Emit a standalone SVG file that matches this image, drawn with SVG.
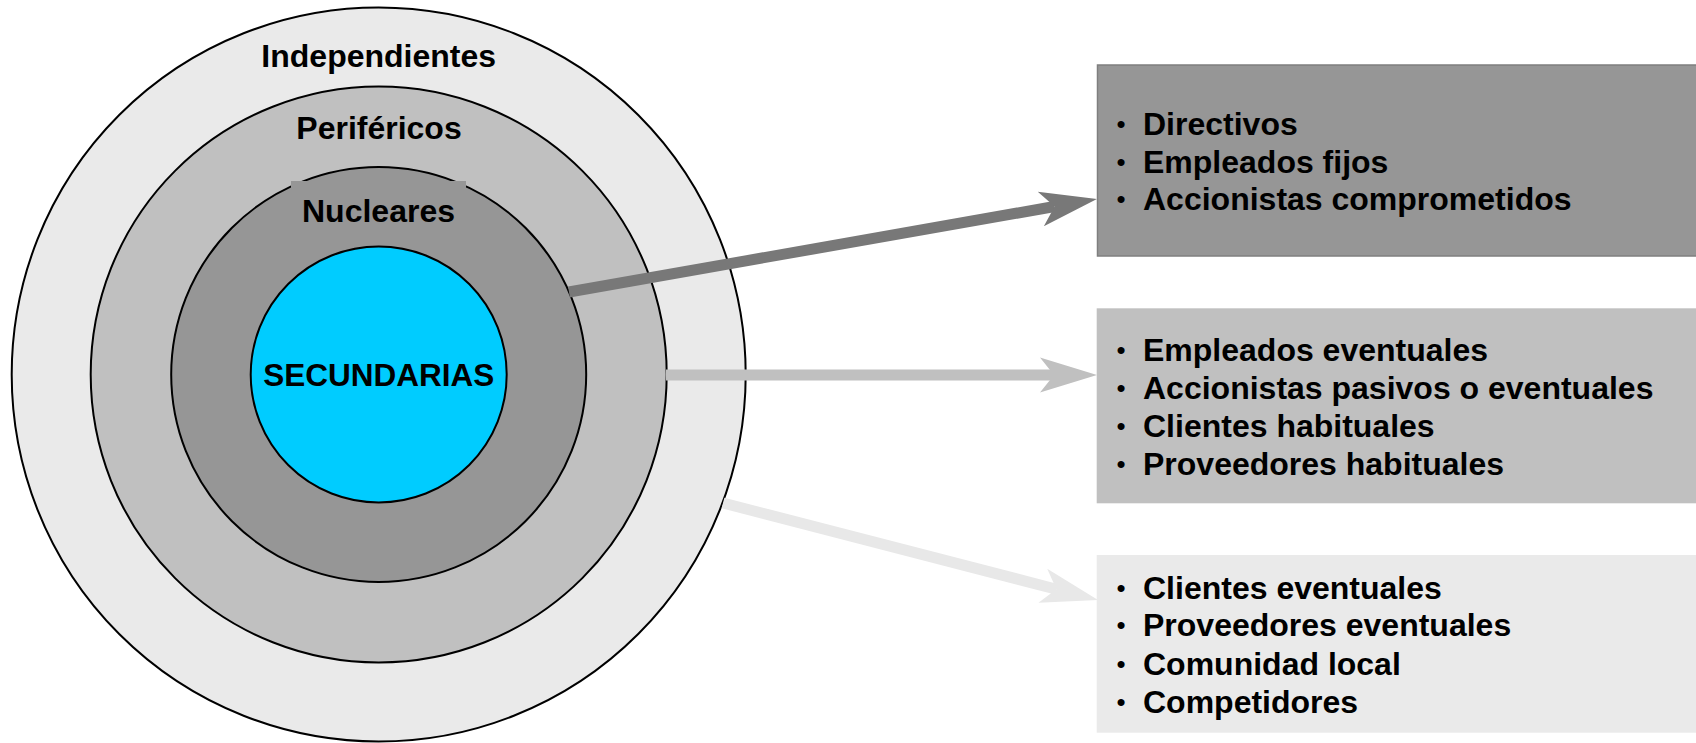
<svg xmlns="http://www.w3.org/2000/svg" width="1696" height="743" viewBox="0 0 1696 743">
<style>
.ring{stroke:#000;stroke-width:2}
.lbl{font-family:"Liberation Sans",Arial,sans-serif;font-weight:bold;font-size:32px;fill:#000;text-anchor:middle}
.item{font-family:"Liberation Sans",Arial,sans-serif;font-weight:bold;font-size:32px;fill:#000}
.bul{font-family:"Liberation Sans",Arial,sans-serif;font-size:26px;fill:#000;text-anchor:middle}
.shaft{fill:none;stroke-width:11;stroke-linecap:butt}
</style>
<defs>
<marker id="h1" markerUnits="userSpaceOnUse" orient="auto" refX="0" refY="0" markerWidth="120" markerHeight="60" viewBox="-20 -30 120 60" overflow="visible"><path d="M43,0 L-14,-17.5 L0,0 L-14,17.5 Z" fill="#787878"/></marker>
<marker id="h2" markerUnits="userSpaceOnUse" orient="auto" refX="0" refY="0" markerWidth="120" markerHeight="60" viewBox="-20 -30 120 60" overflow="visible"><path d="M43,0 L-14,-17.5 L0,0 L-14,17.5 Z" fill="#c0c0c0"/></marker>
<marker id="h3" markerUnits="userSpaceOnUse" orient="auto" refX="0" refY="0" markerWidth="120" markerHeight="60" viewBox="-20 -30 120 60" overflow="visible"><path d="M43,0 L-14,-17.5 L0,0 L-14,17.5 Z" fill="#e8e8e8"/></marker>
</defs>
<rect width="1696" height="743" fill="#fff"/>
<g id="independientes">
<circle class="ring" cx="378.7" cy="374.5" r="367" fill="#eaeaea"/>
<text class="lbl" x="378.7" y="66.5">Independientes</text>
</g>
<g id="perifericos">
<circle class="ring" cx="378.7" cy="374.5" r="288" fill="#c0c0c0"/>
<text class="lbl" x="379" y="138.5">Periféricos</text>
</g>
<g id="nucleares">
<circle class="ring" cx="378.7" cy="374.5" r="207.5" fill="#969696"/>
<rect x="291" y="181" width="175" height="52" fill="#969696"/>
<text class="lbl" x="378.5" y="222">Nucleares</text>
</g>
<g id="secundarias">
<circle class="ring" cx="378.7" cy="374.5" r="128" fill="#00ccff"/>
<text class="lbl" x="378.8" y="385.5" style="font-size:31.5px">SECUNDARIAS</text>
</g>
<g id="connectors">
<line class="shaft" x1="569" y1="292" x2="1054.6" y2="206.5" stroke="#787878" marker-end="url(#h1)"/>
<line class="shaft" x1="666" y1="375" x2="1054" y2="375" stroke="#c0c0c0" marker-end="url(#h2)"/>
<line class="shaft" x1="723" y1="503" x2="1056.4" y2="589.2" stroke="#e8e8e8" marker-end="url(#h3)"/>
</g>
<g id="box-nucleares">
<rect x="1097.5" y="65" width="600" height="191" fill="#969696" stroke="#7f7f7f" stroke-width="1.5"/>
<text class="bul" x="1121" y="133">•</text><text class="item" x="1143" y="135">Directivos</text>
<text class="bul" x="1121" y="170.5">•</text><text class="item" x="1143" y="172.5">Empleados fijos</text>
<text class="bul" x="1121" y="208">•</text><text class="item" x="1143" y="210">Accionistas comprometidos</text>
</g>
<g id="box-perifericos">
<rect x="1096.7" y="308.3" width="600" height="195" fill="#c0c0c0"/>
<text class="bul" x="1121" y="359">•</text><text class="item" x="1143" y="361">Empleados eventuales</text>
<text class="bul" x="1121" y="397">•</text><text class="item" x="1143" y="399">Accionistas pasivos o eventuales</text>
<text class="bul" x="1121" y="435">•</text><text class="item" x="1143" y="437">Clientes habituales</text>
<text class="bul" x="1121" y="473">•</text><text class="item" x="1143" y="475">Proveedores habituales</text>
</g>
<g id="box-independientes">
<rect x="1096.7" y="555" width="600" height="177.7" fill="#eaeaea"/>
<text class="bul" x="1121" y="596.5">•</text><text class="item" x="1143" y="598.5">Clientes eventuales</text>
<text class="bul" x="1121" y="634">•</text><text class="item" x="1143" y="636">Proveedores eventuales</text>
<text class="bul" x="1121" y="673">•</text><text class="item" x="1143" y="675">Comunidad local</text>
<text class="bul" x="1121" y="710.5">•</text><text class="item" x="1143" y="712.5">Competidores</text>
</g>
</svg>
